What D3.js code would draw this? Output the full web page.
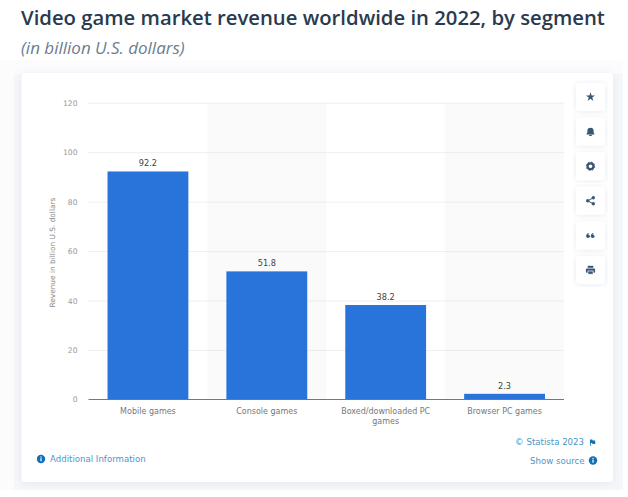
<!DOCTYPE html>
<html>
<head>
<meta charset="utf-8">
<script src="https://cdn.jsdelivr.net/npm/d3@7"></script>
<style>
  html, body { margin: 0; padding: 0; background: #fff; }
  svg { display: block; }
</style>
</head>
<body>
<div id="canvas"></div>
<script>
const segments = ["Mobile games", "Console games", "Boxed/downloaded PC games", "Browser PC games"];
const revenue = [92.2, 51.8, 38.2, 2.3];
const yTicks = [0, 20, 40, 60, 80, 100, 120];
const toolIcons = ["star", "bell", "gear", "share", "quote", "print"];

const width = 628;
const height = 497;
const plot = { left: 88.5, right: 564, top: 102.7, bottom: 399.5 };

const svg = d3
  .select("#canvas")
  .append("svg")
  .attr("width", width)
  .attr("height", height)
  .attr("viewBox", [0, 0, width, height]);

const defs = svg.append("defs");
const shadow = defs
  .append("filter")
  .attr("id", "soft")
  .attr("x", "-10%")
  .attr("y", "-10%")
  .attr("width", "120%")
  .attr("height", "120%");
shadow
  .append("feDropShadow")
  .attr("dx", 0)
  .attr("dy", 1)
  .attr("stdDeviation", 4)
  .attr("flood-color", "#8a9bb5")
  .attr("flood-opacity", 0.2);

// Page background strip around the card
svg.append("rect").attr("x", 0).attr("y", 70).attr("width", 623).attr("height", 420).attr("fill", "#f6f7fa");
svg.append("rect").attr("x", 0).attr("y", 60).attr("width", 623).attr("height", 14).attr("fill", "#fcfcfd");
svg.append("rect").attr("x", 0).attr("y", 70).attr("width", 14).attr("height", 420).attr("fill", "#fcfcfd");

// Titles
svg
  .append("text")
  .attr("x", 21)
  .attr("y", 25)
  .attr("font-family", "Open Sans")
  .attr("font-weight", 600)
  .attr("font-size", 20.3)
  .attr("fill", "#2a3a4e")
  .text("Video game market revenue worldwide in 2022, by segment");

svg
  .append("text")
  .attr("x", 21)
  .attr("y", 54)
  .attr("font-family", "Open Sans")
  .attr("font-style", "italic")
  .attr("font-size", 17)
  .attr("fill", "#6b7c92")
  .text("(in billion U.S. dollars)");

// Card
svg
  .append("rect")
  .attr("x", 21.5)
  .attr("y", 73)
  .attr("width", 591.5)
  .attr("height", 409)
  .attr("rx", 4)
  .attr("fill", "#fff")
  .attr("filter", "url(#soft)");

const xScale = d3
  .scaleBand()
  .domain(segments)
  .range([plot.left, plot.right])
  .paddingInner(0)
  .paddingOuter(0);
const yScale = d3.scaleLinear([0, 120], [plot.bottom, plot.top]);
const barWidth = xScale.bandwidth() * 0.68;

// Alternate column shading
svg
  .selectAll("rect.band")
  .data(segments.filter((d, i) => i % 2 == 1))
  .enter()
  .append("rect")
  .attr("class", "band")
  .attr("x", (d) => xScale(d))
  .attr("y", plot.top)
  .attr("width", xScale.bandwidth())
  .attr("height", plot.bottom - plot.top)
  .attr("fill", "#fafafa");

// Draw yAxis
const yAxis = d3.axisLeft(yScale).tickValues(yTicks).tickSize(0).tickPadding(11);
svg
  .append("g")
  .attr("transform", `translate(${plot.left},0)`)
  .call(yAxis)
  .call((g) => g.select(".domain").remove())
  .call((g) =>
    g
      .selectAll(".tick text")
      .attr("font-family", "DejaVu Sans")
      .attr("font-size", 7.6)
      .attr("fill", "#999")
  )
  .call((g) =>
    g
      .selectAll(".tick line")
      .filter((d) => d != 0)
      .attr("x2", plot.right - plot.left)
      .attr("stroke", "#dedede")
      .attr("stroke-dasharray", "1 1")
  );

svg
  .append("text")
  .attr("transform", `translate(55,${(plot.top + plot.bottom) / 2 + 1.5}) rotate(-90)`)
  .attr("text-anchor", "middle")
  .attr("font-family", "DejaVu Sans")
  .attr("font-size", 7.4)
  .attr("fill", "#888")
  .text("Revenue in billion U.S. dollars");

// Draw bars
svg
  .selectAll("rect.bar")
  .data(segments)
  .enter()
  .append("rect")
  .attr("class", "bar")
  .attr("x", (d) => xScale(d) + (xScale.bandwidth() - barWidth) / 2)
  .attr("y", (d, i) => yScale(revenue[i]))
  .attr("width", barWidth)
  .attr("height", (d, i) => yScale(0) - yScale(revenue[i]))
  .attr("fill", "#2874db");

svg
  .selectAll("text.value")
  .data(segments)
  .enter()
  .append("text")
  .attr("class", "value")
  .attr("x", (d) => xScale(d) + xScale.bandwidth() / 2)
  .attr("y", (d, i) => yScale(revenue[i]) - 5)
  .attr("text-anchor", "middle")
  .attr("font-family", "DejaVu Sans")
  .attr("font-size", 8.2)
  .attr("fill", "#444")
  .text((d, i) => revenue[i].toFixed(1));

// Baseline
svg
  .append("line")
  .attr("x1", plot.left)
  .attr("x2", plot.right)
  .attr("y1", yScale(0))
  .attr("y2", yScale(0))
  .attr("stroke", "#777")
  .attr("stroke-width", 1);

// Category labels, wrapped by hand
const labelLines = (d) =>
  d.length > 20 ? [d.slice(0, d.lastIndexOf(" ")), d.slice(d.lastIndexOf(" ") + 1)] : [d];

svg
  .selectAll("text.cat")
  .data(segments)
  .enter()
  .append("text")
  .attr("class", "cat")
  .attr("text-anchor", "middle")
  .attr("font-family", "DejaVu Sans")
  .attr("font-size", 8)
  .attr("fill", "#777")
  .each(function (d) {
    d3.select(this)
      .selectAll("tspan")
      .data(labelLines(d))
      .enter()
      .append("tspan")
      .attr("x", xScale(d) + xScale.bandwidth() / 2)
      .attr("y", (l, i) => 414 + i * 9.5)
      .text((l) => l);
  });

// Footer links
const infoIcon = (x, y) => {
  svg.append("circle").attr("cx", x).attr("cy", y).attr("r", 4.2).attr("fill", "#0f70b7");
  svg.append("rect").attr("x", x - 0.6).attr("y", y - 0.8).attr("width", 1.2).attr("height", 3).attr("fill", "#fff");
  svg.append("rect").attr("x", x - 0.6).attr("y", y - 2.6).attr("width", 1.2).attr("height", 1.2).attr("fill", "#fff");
};

infoIcon(41, 459);
svg
  .append("text")
  .attr("x", 50)
  .attr("y", 462)
  .attr("font-family", "DejaVu Sans")
  .attr("font-size", 8.6)
  .attr("fill", "#4a97c8")
  .text("Additional Information");

svg
  .append("text")
  .attr("x", 584)
  .attr("y", 445)
  .attr("text-anchor", "end")
  .attr("font-family", "DejaVu Sans")
  .attr("font-size", 8.6)
  .attr("fill", "#4a97c8")
  .text("© Statista 2023");
svg
  .append("path")
  .attr("d", "M590 439.5h2.2l.6 1h2.4v3.6h-2.6l-.6-1h-1.2v2.6H590z")
  .attr("fill", "#0f70b7");

svg
  .append("text")
  .attr("x", 584.5)
  .attr("y", 464)
  .attr("text-anchor", "end")
  .attr("font-family", "DejaVu Sans")
  .attr("font-size", 8.6)
  .attr("fill", "#4a97c8")
  .text("Show source");
infoIcon(593, 460.5);

// Toolbar buttons on the right
const iconColor = "#3a5675";
const drawIcon = {
  star: (g) =>
    g.append("path").attr("d", d3.symbol(d3.symbolStar, 26)()).attr("fill", iconColor),
  bell: (g) => {
    g.append("path").attr("d", "M-4.2 2.8c1.1-1.1 1.1-2.2 1.1-3.6a3.1 3.1 0 0 1 6.2 0c0 1.4 0 2.5 1.1 3.6z").attr("fill", iconColor);
    g.append("rect").attr("x", -1.3).attr("y", 3.2).attr("width", 2.6).attr("height", 1.2).attr("fill", iconColor);
  },
  gear: (g) => {
    g.append("circle").attr("r", 2.9).attr("fill", "none").attr("stroke", iconColor).attr("stroke-width", 2.2);
    g.append("circle").attr("r", 4.2).attr("fill", "none").attr("stroke", iconColor).attr("stroke-width", 1).attr("stroke-dasharray", "1.6 1.7");
  },
  share: (g) => {
    g.append("path").attr("d", "M2.8-3L-2.8 0L2.8 3").attr("fill", "none").attr("stroke", iconColor).attr("stroke-width", 1);
    [[2.8, -3], [-2.8, 0], [2.8, 3]].forEach((p) =>
      g.append("circle").attr("cx", p[0]).attr("cy", p[1]).attr("r", 1.7).attr("fill", iconColor)
    );
  },
  quote: (g) => {
    [-2.4, 2.2].forEach((x) => {
      g.append("circle").attr("cx", x).attr("cy", 0.9).attr("r", 1.8).attr("fill", iconColor);
      g.append("path").attr("d", `M${x - 1.8} 0.9c0-2 1-3 2.4-3.2v1c-.8.2-1 1-1 2.2z`).attr("fill", iconColor);
    });
  },
  print: (g) => {
    g.append("rect").attr("x", -4.6).attr("y", -1.6).attr("width", 9.2).attr("height", 4.4).attr("rx", 1).attr("fill", iconColor);
    g.append("rect").attr("x", -2.8).attr("y", -4.2).attr("width", 5.6).attr("height", 2).attr("fill", iconColor);
    g.append("rect").attr("x", -2.6).attr("y", 1).attr("width", 5.2).attr("height", 3.2).attr("fill", iconColor).attr("stroke", "#fff").attr("stroke-width", 0.7);
  },
};

const buttons = svg
  .selectAll("g.button")
  .data(toolIcons)
  .enter()
  .append("g")
  .attr("class", "button")
  .attr("transform", (d, i) => `translate(590.5,${97 + i * 34.6})`);

buttons
  .append("rect")
  .attr("x", -14.5)
  .attr("y", -14)
  .attr("width", 29)
  .attr("height", 28)
  .attr("rx", 3)
  .attr("fill", "#fff")
  .attr("filter", "url(#soft)");

buttons.each(function (d) {
  drawIcon[d](d3.select(this));
});
</script>
</body>
</html>
